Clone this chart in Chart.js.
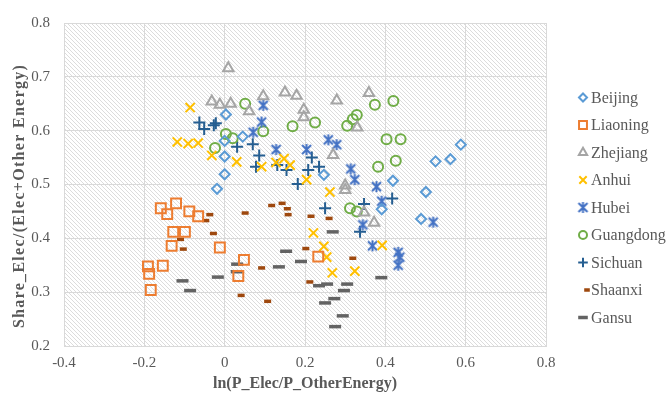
<!DOCTYPE html>
<html>
<head>
<meta charset="utf-8">
<script src="https://cdn.jsdelivr.net/npm/chart.js@4.4.1/dist/chart.umd.min.js"></script>
<style>
  html, body { margin: 0; padding: 0; background: #fff; }
  #wrap { width: 667px; height: 395px; }
</style>
</head>
<body>
<div id="wrap"><canvas id="scatterChart" width="667" height="395"></canvas></div>
<script>
// axis ticks
const xTickLabels = ['-0.4', '-0.2', '0', '0.2', '0.4', '0.6', '0.8'];
const yTickLabels = ['0.2', '0.3', '0.4', '0.5', '0.6', '0.7', '0.8'];

// series values (x = ln(P_Elec/P_OtherEnergy), y = share)
const beijingX = [-0.019, 0.000, 0.000, 0.000, 0.003, 0.045, 0.247, 0.391, 0.419, 0.501, 0.489, 0.525, 0.562, 0.588];
const beijingY = [0.492, 0.519, 0.552, 0.581, 0.630, 0.589, 0.518, 0.454, 0.507, 0.486, 0.436, 0.543, 0.547, 0.574];

const liaoningX = [-0.159, -0.121, -0.143, -0.088, -0.066, -0.128, -0.099, -0.132, -0.012, -0.191, -0.154, -0.188, -0.184, 0.048, 0.034, 0.233];
const liaoningY = [0.456, 0.465, 0.445, 0.450, 0.441, 0.412, 0.412, 0.386, 0.383, 0.348, 0.349, 0.334, 0.304, 0.360, 0.330, 0.366];

const zhejiangX = [0.009, -0.032, -0.012, 0.015, 0.061, 0.096, 0.150, 0.179, 0.197, 0.197, 0.279, 0.359, 0.330, 0.270, 0.300, 0.300, 0.347, 0.372];
const zhejiangY = [0.716, 0.654, 0.648, 0.650, 0.636, 0.664, 0.671, 0.665, 0.639, 0.625, 0.656, 0.670, 0.606, 0.555, 0.498, 0.490, 0.448, 0.429];

const anhuiX = [-0.086, -0.118, -0.091, -0.066, -0.032, 0.030, 0.092, 0.128, 0.148, 0.163, 0.204, 0.262, 0.221, 0.247, 0.254, 0.268, 0.324, 0.392];
const anhuiY = [0.643, 0.579, 0.576, 0.577, 0.554, 0.542, 0.533, 0.541, 0.548, 0.536, 0.509, 0.486, 0.410, 0.385, 0.365, 0.336, 0.339, 0.387];

const hubeiX = [0.096, 0.092, 0.071, 0.128, 0.204, 0.258, 0.279, 0.314, 0.324, 0.378, 0.391, 0.344, 0.519, 0.368, 0.432, 0.436, 0.432];
const hubeiY = [0.647, 0.616, 0.597, 0.565, 0.565, 0.583, 0.574, 0.529, 0.509, 0.496, 0.469, 0.425, 0.430, 0.386, 0.374, 0.365, 0.350];

const guangdongX = [-0.024, 0.003, 0.020, 0.051, 0.096, 0.169, 0.225, 0.305, 0.319, 0.329, 0.374, 0.420, 0.403, 0.438, 0.426, 0.382, 0.312, 0.329];
const guangdongY = [0.568, 0.594, 0.586, 0.650, 0.599, 0.608, 0.615, 0.609, 0.621, 0.629, 0.648, 0.655, 0.584, 0.584, 0.544, 0.533, 0.456, 0.450];

const sichuanX = [-0.063, -0.051, -0.027, -0.022, 0.031, 0.070, 0.086, 0.078, 0.131, 0.154, 0.217, 0.208, 0.235, 0.182, 0.250, 0.347, 0.337, 0.417];
const sichuanY = [0.615, 0.603, 0.610, 0.614, 0.570, 0.575, 0.554, 0.533, 0.536, 0.527, 0.550, 0.527, 0.533, 0.501, 0.456, 0.464, 0.412, 0.474];

const shaanxiX = [-0.037, -0.047, -0.028, -0.110, -0.103, 0.051, 0.117, 0.143, 0.156, 0.158, 0.215, 0.260, 0.202, 0.092, 0.319, 0.212, 0.041, 0.107];
const shaanxiY = [0.444, 0.433, 0.409, 0.398, 0.380, 0.447, 0.461, 0.465, 0.455, 0.444, 0.441, 0.437, 0.381, 0.345, 0.363, 0.319, 0.294, 0.283];

const gansuX = [-0.105, -0.086, -0.017, 0.031, 0.030, 0.135, 0.153, 0.190, 0.235, 0.255, 0.305, 0.297, 0.273, 0.250, 0.294, 0.275, 0.390, 0.269];
const gansuY = [0.321, 0.303, 0.328, 0.352, 0.338, 0.347, 0.376, 0.357, 0.312, 0.315, 0.315, 0.303, 0.288, 0.280, 0.256, 0.236, 0.327, 0.412];

const toPoints = (xs, ys) => xs.map((x, i) => ({ x: x, y: ys[i] }));

// Excel style asterisk: an X with a vertical stroke
function makeStar(color) {
    const c = document.createElement('canvas');
    c.width = 13; c.height = 13;
    const g = c.getContext('2d');
    g.strokeStyle = color;
    g.lineWidth = 2;
    g.beginPath();
    g.moveTo(2, 2); g.lineTo(11, 11);
    g.moveTo(11, 2); g.lineTo(2, 11);
    g.moveTo(6.5, 1); g.lineTo(6.5, 12);
    g.stroke();
    return c;
}

function ds(label, xs, ys, color, style, radius, width) {
    return {
        label: label,
        data: toPoints(xs, ys),
        pointStyle: style,
        pointRadius: radius,
        pointBorderWidth: width,
        borderColor: color,
        backgroundColor: 'rgba(0,0,0,0)',
        showLine: false
    };
}

const datasets = [
    ds('Beijing', beijingX, beijingY, '#5B9BD5', 'rectRot', 5, 2),
    ds('Liaoning', liaoningX, liaoningY, '#ED7D31', 'rect', 7, 2),
    ds('Zhejiang', zhejiangX, zhejiangY, '#A5A5A5', 'triangle', 6, 2),
    ds('Anhui', anhuiX, anhuiY, '#FFC000', 'crossRot', 6.5, 2),
    ds('Hubei', hubeiX, hubeiY, '#4472C4', makeStar('#4472C4'), 6, 2),
    ds('Guangdong', guangdongX, guangdongY, '#70AD47', 'circle', 5, 2),
    ds('Sichuan', sichuanX, sichuanY, '#255E91', 'cross', 6, 2),
    ds('Shaanxi', shaanxiX, shaanxiY, '#9E480E', 'line', 3.5, 3.5),
    ds('Gansu', gansuX, gansuY, '#636363', 'line', 6, 3.5)
];

// hatched plot background
function hatch() {
    const c = document.createElement('canvas');
    c.width = 4; c.height = 4;
    const g = c.getContext('2d');
    g.fillStyle = '#ffffff';
    g.fillRect(0, 0, 4, 4);
    g.fillStyle = '#dcdcdc';
    for (let i = 0; i < 4; i++) g.fillRect(i, i, 1, 1);
    return c;
}

const bgPlugin = {
    id: 'bg',
    beforeDraw(chart) {
        const ctx = chart.ctx, a = chart.chartArea;
        ctx.save();
        ctx.fillStyle = '#fff';
        ctx.fillRect(0, 0, chart.width, chart.height);
        ctx.fillStyle = ctx.createPattern(hatch(), 'repeat');
        ctx.fillRect(a.left, a.top, a.right - a.left, a.bottom - a.top);
        ctx.restore();
    }
};

const legendPlugin = {
    id: 'sideLegend',
    afterDraw(chart) {
        const ctx = chart.ctx;
        ctx.save();
        ctx.font = '16px "Liberation Serif"';
        ctx.textBaseline = 'middle';
        ctx.fillStyle = '#595959';
        chart.data.datasets.forEach((d, i) => {
            const y = 97.5 + i * 27.5;
            const sx = d.label === 'Shaanxi' ? 587 : 583;
            ctx.strokeStyle = d.borderColor;
            ctx.fillStyle = 'rgba(0,0,0,0)';
            ctx.lineWidth = d.pointBorderWidth;
            Chart.helpers.drawPoint(ctx, {
                pointStyle: d.pointStyle,
                radius: d.pointRadius * 0.8,
                rotation: 0,
                borderWidth: d.pointBorderWidth
            }, sx, y);
            ctx.fillStyle = '#595959';
            ctx.fillText(d.label, 591, y + 1);
        });
        // y axis title
        ctx.translate(20, 196);
        ctx.rotate(-Math.PI / 2);
        ctx.font = 'bold 16px "Liberation Serif"';
        ctx.letterSpacing = '1.3px';
        ctx.textAlign = 'center';
        ctx.fillStyle = '#595959';
        ctx.fillText('Share_Elec/(Elec+Other Energy)', 0, 0);
        ctx.restore();
    }
};

const chart = new Chart(document.getElementById('scatterChart').getContext('2d'), {
    type: 'scatter',
    data: { datasets: datasets },
    options: {
        responsive: false,
        animation: false,
        events: [],
        layout: { padding: { left: 0, top: 16, right: 121, bottom: 0 } },
        plugins: {
            legend: { display: false },
            tooltip: { enabled: false }
        },
        scales: {
            x: {
                type: 'linear',
                min: -0.4,
                max: 0.8,
                afterFit: (s) => { s.height = 49; },
                afterBuildTicks: (s) => { s.ticks = xTickLabels.map(v => ({ value: parseFloat(v) })); },
                ticks: {
                    padding: 8,
                    color: '#595959',
                    font: { family: 'Liberation Serif', size: 15 },
                    callback: (v, i) => xTickLabels[i]
                },
                grid: { color: '#d9d9d9', lineWidth: 1, drawTicks: false },
                border: { color: '#d9d9d9' },
                title: {
                    display: true,
                    text: 'ln(P_Elec/P_OtherEnergy)',
                    color: '#595959',
                    font: { family: 'Liberation Serif', size: 16, weight: 'bold' },
                    padding: { top: 0, bottom: 2 }
                }
            },
            y: {
                type: 'linear',
                min: 0.2,
                max: 0.8,
                afterFit: (s) => { s.width = 64; },
                afterBuildTicks: (s) => { s.ticks = yTickLabels.map(v => ({ value: parseFloat(v) })); },
                ticks: {
                    padding: 14,
                    color: '#595959',
                    font: { family: 'Liberation Serif', size: 15 },
                    callback: (v, i) => yTickLabels[i]
                },
                grid: { color: '#d9d9d9', lineWidth: 1, drawTicks: false },
                border: { color: '#d9d9d9' }
            }
        }
    },
    plugins: [bgPlugin, legendPlugin]
});
</script>
</body>
</html>
